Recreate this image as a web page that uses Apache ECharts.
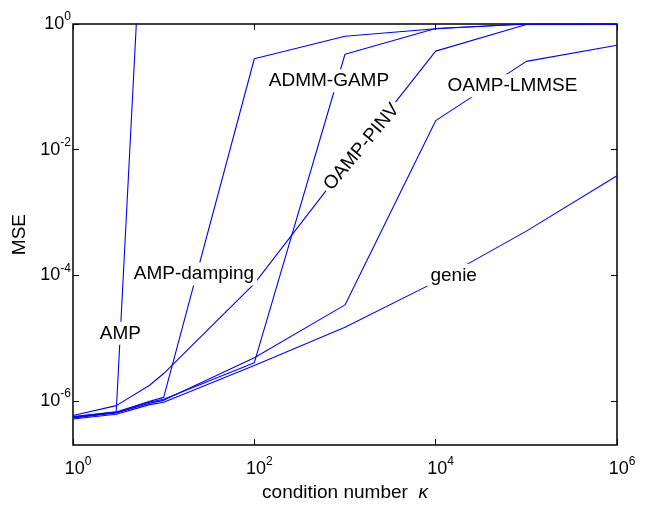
<!DOCTYPE html>
<html>
<head>
<meta charset="utf-8">
<script src="https://cdn.jsdelivr.net/npm/echarts@6/dist/echarts.min.js"></script>
<style>
html, body { margin: 0; padding: 0; background: #fff; }
#chart { width: 648px; height: 507px; }
</style>
</head>
<body>
<div id="chart"></div>
<script>
// condition number kappa and MSE
var kAmp = [1, 3, 5];
var mseAmp = [5.7e-7, 6.8e-7, 1.05];

var kappa = [1, 3, 7, 10, 100, 1e3, 1e4, 1e5, 1e6];
var mseDamping = [5.6e-7, 6.7e-7, 1.0e-6, 1.15e-6, 0.28, 0.64, 0.84, 1.0, 1.0];
var mseAdmm = [5.5e-7, 6.6e-7, 9.7e-7, 1.07e-6, 4.1e-6, 0.33, 0.85, 1.0, 1.0];
var msePinv = [5.9e-7, 8.5e-7, 1.79e-6, 2.75e-6, 7.4e-5, 5.5e-3, 0.37, 0.98, 1.0];
var mseLmmse = [5.4e-7, 6.5e-7, 9.3e-7, 1.03e-6, 4.9e-6, 3.4e-5, 0.029, 0.254, 0.46];
var mseGenie = [5.2e-7, 6.2e-7, 8.8e-7, 9.6e-7, 3.7e-6, 1.5e-5, 7.9e-5, 5.07e-4, 3.85e-3];

// curve names written inside the plot, anchored at (kappa, MSE)
var noteText = ['AMP', 'AMP-damping', 'ADMM-GAMP', 'OAMP-PINV', 'OAMP-LMMSE', 'genie'];
var noteK = [3.33, 21.6, 665, 1528, 70300, 15800];
var noteMse = [1.2e-5, 1.05e-4, 0.125, 0.011, 0.104, 1.0e-4];

var xTicks = [0, 2, 4, 6];      // powers of ten
var yTicks = [-6, -4, -2, 0];
var yMin = Math.log10(2e-7);

var font = '"Liberation Sans", Arial, Helvetica, sans-serif';

function pairs(xs, ys) {
	var out = [];
	for (var i = 0; i < xs.length; i++) {
		out.push([Math.log10(xs[i]), Math.log10(ys[i])]);
	}
	return out;
}

function pow10(v) {
	return '{b|10}{s|' + Math.round(v) + '}';
}

var powRich = {
	b: { fontSize: 18, fontFamily: font, color: '#000', lineHeight: 26 },
	s: { fontSize: 12, fontFamily: font, color: '#000', verticalAlign: 'top', lineHeight: 12 },
	p: { width: 10 }
};

function curve(name, xs, ys) {
	return {
		name: name,
		type: 'line',
		data: pairs(xs, ys),
		showSymbol: false,
		symbol: 'none',
		lineStyle: { color: '#0000ff', width: 1.1 },
		z: 2,
		silent: true
	};
}

var notes = [];
for (var i = 0; i < noteText.length; i++) {
	var item = {
		name: noteText[i],
		value: [Math.log10(noteK[i]), Math.log10(noteMse[i])]
	};
	if (noteText[i] === 'OAMP-PINV') {
		item.label = { rotate: 50 };
	}
	notes.push(item);
}

var chart = echarts.init(document.getElementById('chart'));

var tickStyle = { inside: true, length: 6, lineStyle: { color: '#000', width: 1 } };
var noLine = { show: false, onZero: false };

chart.setOption({
	animation: false,
	backgroundColor: '#fff',
	grid: {
		left: 73, right: 31, top: 24, bottom: 56,
		show: true,
		borderColor: '#000',
		borderWidth: 1.5,
		backgroundColor: 'transparent'
	},
	xAxis: [{
		type: 'value',
		min: 0, max: 6,
		axisLine: noLine,
		splitLine: { show: false },
		axisTick: Object.assign({ customValues: xTicks }, tickStyle),
		axisLabel: {
			customValues: xTicks,
			margin: 11,
			formatter: function (v) { return '{p|}' + pow10(v); },
			rich: powRich
		},
		name: '{t|condition number  }{k|κ}',
		nameLocation: 'middle',
		nameGap: 37,
		nameTextStyle: {
			rich: {
				t: { fontSize: 19, fontFamily: font, color: '#000' },
				k: { fontSize: 19, fontFamily: font, fontStyle: 'italic', color: '#000' }
			}
		}
	}, {
		type: 'value', position: 'top', min: 0, max: 6,
		axisLine: noLine,
		splitLine: { show: false },
		axisLabel: { show: false },
		axisTick: Object.assign({ customValues: xTicks }, tickStyle)
	}],
	yAxis: [{
		type: 'value',
		min: yMin, max: 0,
		axisLine: noLine,
		splitLine: { show: false },
		axisTick: Object.assign({ customValues: yTicks }, tickStyle),
		axisLabel: {
			customValues: yTicks,
			margin: 2,
			formatter: pow10,
			rich: powRich
		},
		name: 'MSE',
		nameLocation: 'middle',
		nameGap: 41,
		nameTextStyle: { fontSize: 19, fontFamily: font, color: '#000' }
	}, {
		type: 'value', position: 'right', min: yMin, max: 0,
		axisLine: noLine,
		splitLine: { show: false },
		axisLabel: { show: false },
		axisTick: Object.assign({ customValues: yTicks }, tickStyle)
	}],
	series: [
		curve('AMP', kAmp, mseAmp),
		curve('AMP-damping', kappa, mseDamping),
		curve('ADMM-GAMP', kappa, mseAdmm),
		curve('OAMP-PINV', kappa, msePinv),
		curve('OAMP-LMMSE', kappa, mseLmmse),
		curve('genie', kappa, mseGenie),
		{
			name: 'notes',
			type: 'scatter',
			data: notes,
			symbolSize: 0,
			z: 5,
			silent: true,
			itemStyle: { opacity: 1 },
			label: {
				show: true,
				position: 'inside',
				formatter: '{b}',
				fontSize: 19,
				fontFamily: font,
				color: '#000',
				opacity: 1,
				textBorderWidth: 0,
				backgroundColor: '#fff',
				padding: [2, 3]
			}
		}
	]
});
</script>
</body>
</html>
